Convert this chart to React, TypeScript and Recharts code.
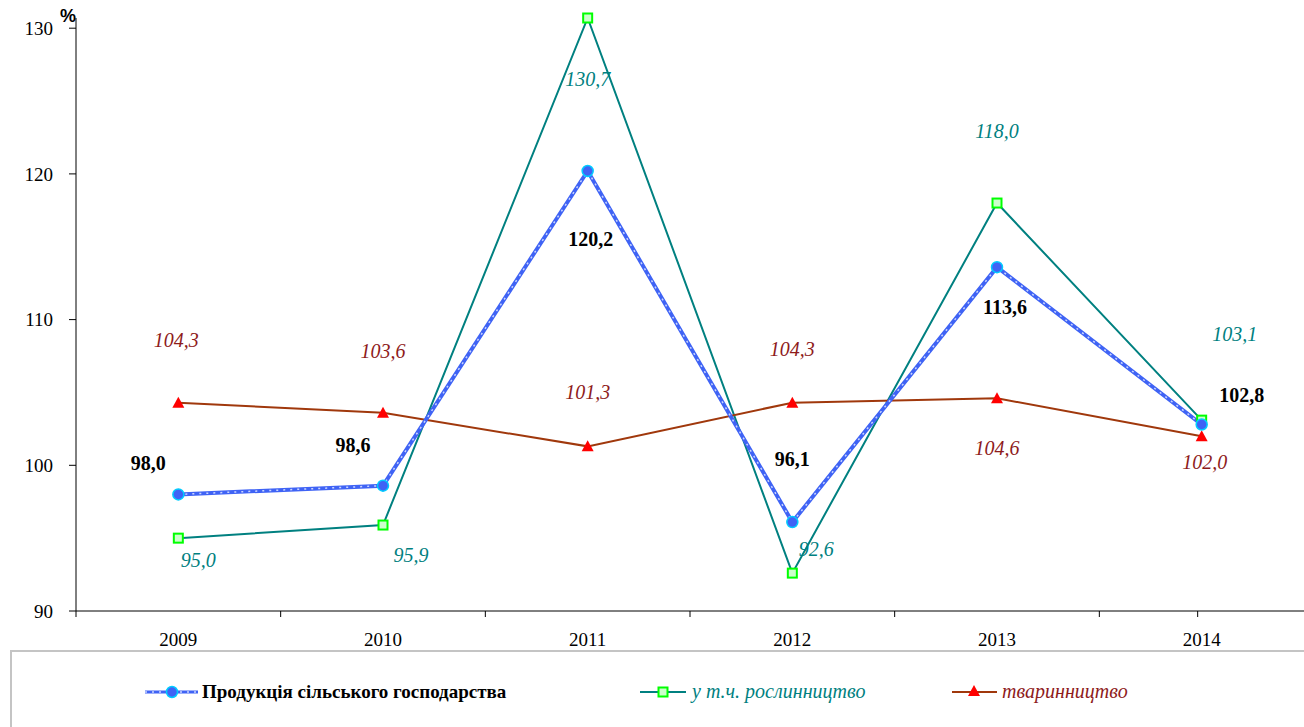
import { LineChart, Line, XAxis, YAxis, Legend, LabelList } from "recharts";

const years = ["2009", "2010", "2011", "2012", "2013", "2014"];
const agriculture = [98.0, 98.6, 120.2, 96.1, 113.6, 102.8];
const crops = [95.0, 95.9, 130.7, 92.6, 118.0, 103.1];
const livestock = [104.3, 103.6, 101.3, 104.3, 104.6, 102.0];
const yTicks = [90, 100, 110, 120, 130];

const data = years.map((year, i) => ({
  idx: i,
  year,
  agriculture: agriculture[i],
  crops: crops[i],
  livestock: livestock[i],
}));

// label offsets from each point (px)
const agriOffsets = [[-30, -31], [-30, -41], [3, 68], [0, -63], [8, 40], [40, -30]];
const cropOffsets = [[20, 22], [28, 30], [0, 61], [24, -24], [0, -72], [33, -86]];
const liveOffsets = [[-2, -63], [0, -62], [0, -54], [0, -54], [0, 50], [3, 26]];

const BLUE = "#3F63F5";
const TEAL = "#008080";
const BROWN = "#A0380C";
const DARKRED = "#8E1B1B";
const FONT = "Liberation Serif, Times New Roman, DejaVu Serif, serif";
const BAND = 1228 / 6;

const fmt = (v: number) => v.toFixed(1).replace(".", ",");

function makeLabel(offsets: number[][], color: string, bold: boolean, italic: boolean) {
  return (props: any) => {
    const { x, y, value, index } = props;
    const [dx, dy] = offsets[index];
    return (
      <text
        x={x + dx}
        y={y + dy}
        textAnchor="middle"
        dominantBaseline="central"
        fill={color}
        style={{
          fontFamily: FONT,
          fontSize: 20,
          fontWeight: bold ? "bold" : "normal",
          fontStyle: italic ? "italic" : "normal",
        }}
      >
        {fmt(value)}
      </text>
    );
  };
}

const CircleDot = (props: any) => {
  const { cx, cy } = props;
  return <circle key={`c${props.index}`} cx={cx} cy={cy} r={5.5} fill={BLUE} stroke="#00CCFF" strokeWidth={1.5} />;
};

const SquareDot = (props: any) => {
  const { cx, cy } = props;
  return (
    <rect key={`s${props.index}`} x={cx - 4.5} y={cy - 4.5} width={9} height={9} fill="#CCFFCC" stroke="#00FF00" strokeWidth={2} />
  );
};

const TriangleDot = (props: any) => {
  const { cx, cy } = props;
  return (
    <path key={`t${props.index}`} d={`M${cx},${cy - 6} L${cx + 6},${cy + 5} L${cx - 6},${cy + 5} Z`} fill="#FF0000" />
  );
};

const XTick = (props: any) => {
  const { x, y, payload } = props;
  return (
    <g>
      <line x1={x - BAND / 2} y1={y} x2={x - BAND / 2} y2={y + 6} stroke="#000" strokeWidth={1} />
      <text x={x} y={y + 35} textAnchor="middle" fill="#000" style={{ fontFamily: FONT, fontSize: 19 }}>
        {years[payload.value]}
      </text>
    </g>
  );
};

const LegendContent = () => (
  <div style={{ position: "relative", width: "100%", height: "100%" }}>
    <svg width={1300} height={90} style={{ position: "absolute", left: 0, top: 0 }}>
      <line x1={133} y1={40} x2={186} y2={40} stroke={BLUE} strokeWidth={3} />
      <line x1={133} y1={40} x2={186} y2={40} stroke="#C8D4FF" strokeWidth={1.5} strokeDasharray="2 5" />
      <circle cx={160} cy={40} r={5.5} fill={BLUE} stroke="#00CCFF" strokeWidth={1.5} />
      <text x={190} y={46} fill="#000" style={{ fontFamily: FONT, fontSize: 19, fontWeight: "bold" }}>
        Продукція сільського господарства
      </text>
      <line x1={628} y1={40} x2={674} y2={40} stroke={TEAL} strokeWidth={2} />
      <rect x={646.5} y={35.5} width={9} height={9} fill="#CCFFCC" stroke="#00FF00" strokeWidth={2} />
      <text x={680} y={46} fill={TEAL} style={{ fontFamily: FONT, fontSize: 20, fontStyle: "italic" }}>
        у т.ч. рослинництво
      </text>
      <line x1={940} y1={40} x2={985} y2={40} stroke={BROWN} strokeWidth={2} />
      <path d="M962,33 L968,44 L956,44 Z" fill="#FF0000" />
      <text x={990} y={46} fill={DARKRED} style={{ fontFamily: FONT, fontSize: 20, fontStyle: "italic" }}>
        тваринництво
      </text>
    </svg>
  </div>
);

export default function App() {
  return (
    <div style={{ position: "relative", width: 1304, height: 727, background: "#fff" }}>
      <style>{`body{margin:0}`}</style>
      <LineChart
        width={1304}
        height={727}
        data={data}
        margin={{ top: 18, right: 0, left: 0, bottom: 0 }}
      >
        <XAxis
          dataKey="idx"
          type="number"
          domain={[-0.5, 5.5]}
          ticks={[0, 1, 2, 3, 4, 5, 6]}
          allowDataOverflow
          tick={<XTick />}
          tickLine={false}
          tickSize={0}
          tickMargin={0}
          axisLine={{ stroke: "#000" }}
          height={116}
        />
        <YAxis
          type="number"
          domain={[90, 130.7]}
          ticks={yTicks}
          width={76}
          tickSize={7}
          tickMargin={16}
          axisLine={{ stroke: "#000" }}
          tickLine={{ stroke: "#000" }}
          tick={{ fill: "#000", style: { fontFamily: FONT, fontSize: 19 } }}
          label={{
            content: (p: any) => {
              const vb = p.viewBox;
              return (
                <text
                  x={vb.x + vb.width - 8}
                  y={vb.y + 4}
                  textAnchor="middle"
                  fill="#000"
                  style={{ fontFamily: "Liberation Sans, Arial, sans-serif", fontWeight: "bold", fontSize: 18 }}
                >
                  %
                </text>
              );
            },
          }}
        />
        <Legend
          layout="horizontal"
          verticalAlign="middle"
          align="center"
          content={<LegendContent />}
          wrapperStyle={{
            left: 10,
            top: 650,
            width: 1300,
            height: 90,
            border: "2px solid #C4C4C4",
            boxSizing: "border-box",
          }}
        />
        <Line
          dataKey="crops"
          stroke={TEAL}
          strokeWidth={2}
          dot={<SquareDot />}
          activeDot={false}
          isAnimationActive={false}
        >
          <LabelList dataKey="crops" content={makeLabel(cropOffsets, TEAL, false, true)} />
        </Line>
        <Line
          dataKey="livestock"
          stroke={BROWN}
          strokeWidth={2}
          dot={<TriangleDot />}
          activeDot={false}
          isAnimationActive={false}
        >
          <LabelList dataKey="livestock" content={makeLabel(liveOffsets, DARKRED, false, true)} />
        </Line>
        <Line
          dataKey="agriculture"
          stroke={BLUE}
          strokeWidth={4}
          dot={false}
          activeDot={false}
          legendType="none"
          isAnimationActive={false}
        />
        <Line
          dataKey="agriculture"
          stroke="#C8D4FF"
          strokeWidth={1.5}
          strokeDasharray="2 5"
          dot={<CircleDot />}
          activeDot={false}
          isAnimationActive={false}
        >
          <LabelList dataKey="agriculture" content={makeLabel(agriOffsets, "#000", true, false)} />
        </Line>
      </LineChart>
    </div>
  );
}
